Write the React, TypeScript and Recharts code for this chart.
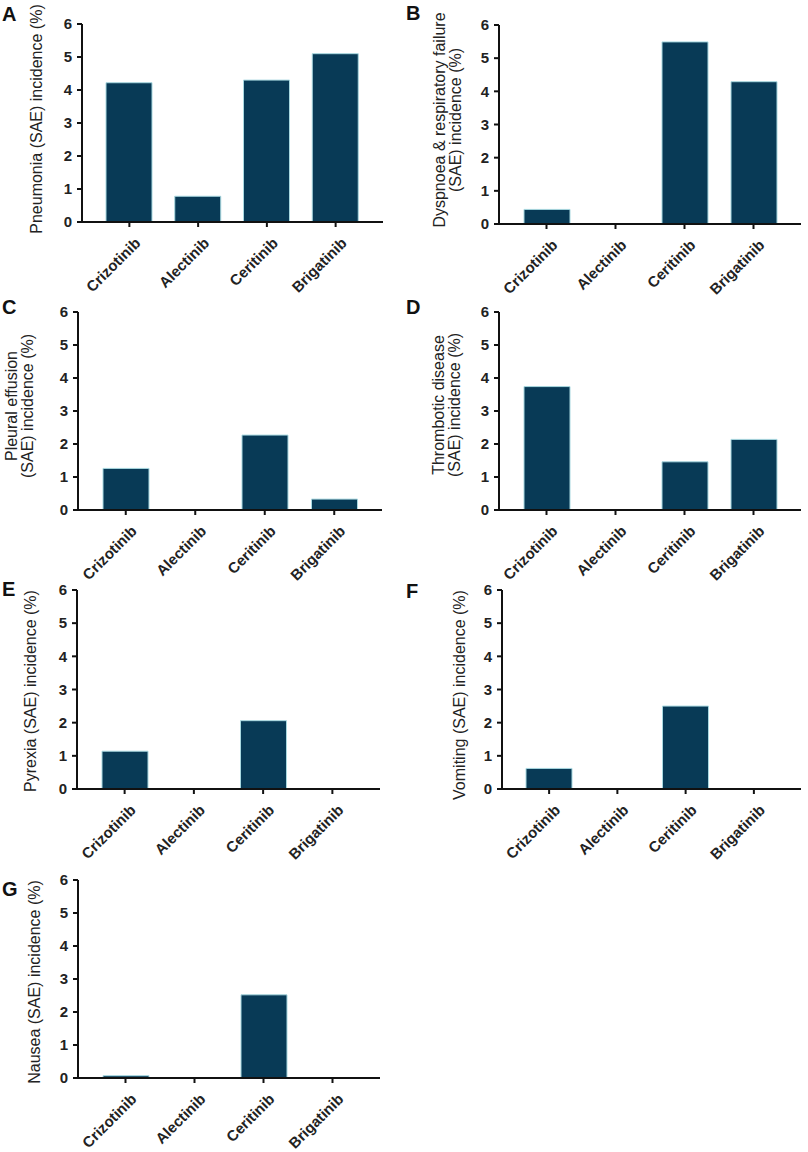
import React from 'react';
import { BarChart, Bar, XAxis, YAxis } from 'recharts';

const drugs = ['Crizotinib', 'Alectinib', 'Ceritinib', 'Brigatinib'];
const yTicks = [0, 1, 2, 3, 4, 5, 6];

const pneumonia = [4.22, 0.78, 4.3, 5.1];
const dyspnoea = [0.44, 0, 5.49, 4.29];
const pleuralEffusion = [1.26, 0, 2.27, 0.33];
const thrombotic = [3.74, 0, 1.46, 2.14];
const pyrexia = [1.14, 0, 2.06, 0];
const vomiting = [0.62, 0, 2.5, 0];
const nausea = [0.07, 0, 2.52, 0];

const BAR_FILL = '#083a56';
const BAR_EDGE = '#a8d8e0';
const AXIS = '#111';
const FONT = 'Liberation Sans, Arial, sans-serif';

type Panel = {
  letter: string;
  values: number[];
  title: string[];
  col: number;
  axisX: number;
  top: number;
  zero: number;
  right: number;
  titleX: number;
  titleY: number;
  letterY: number;
};

const panels: Panel[] = [
  { letter: 'A', values: pneumonia, title: ['Pneumonia (SAE) incidence (%)'], col: 0, axisX: 82, top: 24, zero: 222, right: 383, titleX: 37, titleY: 119, letterY: 20 },
  { letter: 'B', values: dyspnoea, title: ['Dyspnoea & respiratory failure', '(SAE) incidence (%)'], col: 404, axisX: 499, top: 25, zero: 224, right: 801, titleX: 448, titleY: 120, letterY: 19 },
  { letter: 'C', values: pleuralEffusion, title: ['Pleural effusion', '(SAE) incidence (%)'], col: 0, axisX: 78, top: 312, zero: 510, right: 382, titleX: 20, titleY: 406, letterY: 313 },
  { letter: 'D', values: thrombotic, title: ['Thrombotic disease', '(SAE) incidence (%)'], col: 404, axisX: 499, top: 312, zero: 510, right: 801, titleX: 447, titleY: 405, letterY: 313 },
  { letter: 'E', values: pyrexia, title: ['Pyrexia (SAE) incidence (%)'], col: 0, axisX: 77, top: 590, zero: 789, right: 380, titleX: 31, titleY: 691, letterY: 595 },
  { letter: 'F', values: vomiting, title: ['Vomiting (SAE) incidence (%)'], col: 404, axisX: 502, top: 590, zero: 789, right: 801, titleX: 460, titleY: 695, letterY: 597 },
  { letter: 'G', values: nausea, title: ['Nausea (SAE) incidence (%)'], col: 0, axisX: 78, top: 880, zero: 1078, right: 380, titleX: 35, titleY: 982, letterY: 895 },
];

// rotated category label, its right end sits just below-right of the tick
const XTick = (props: any) => {
  const { x, y, payload } = props;
  return (
    <g transform={`translate(${x + 12},${y + 17}) rotate(-45)`}>
      <text x={0} y={0} textAnchor="end" fill="#222" fontFamily={FONT} fontSize={15} fontWeight={700}>
        {payload.value}
      </text>
    </g>
  );
};

const PADTOP = 12;
const XAXIS_H = 90;
const YAXIS_W = 34;

const SmallChart = ({ p }: { p: Panel }) => {
  const data = drugs.map((d, i) => ({ drug: d, value: p.values[i] }));
  const height = p.zero - p.top + PADTOP + XAXIS_H;
  return (
    <div style={{ position: 'absolute', left: p.col, top: p.top - PADTOP }}>
      <BarChart
        width={404}
        height={height}
        data={data}
        margin={{ top: PADTOP, right: p.col + 404 - p.right, bottom: 0, left: p.axisX - p.col - YAXIS_W }}
      >
        <XAxis
          dataKey="drug"
          interval={0}
          height={XAXIS_H}
          padding={{ left: 13, right: 13 }}
          axisLine={{ stroke: AXIS, strokeWidth: 2 }}
          tickLine={{ stroke: AXIS, strokeWidth: 2 }}
          tickSize={5}
          tickMargin={0}
          tick={<XTick />}
        />
        <YAxis
          width={YAXIS_W}
          domain={[0, 6]}
          ticks={yTicks}
          interval={0}
          axisLine={{ stroke: AXIS, strokeWidth: 2 }}
          tickLine={{ stroke: AXIS, strokeWidth: 2 }}
          tickSize={5}
          tickMargin={5}
          tick={{ fill: '#222', fontFamily: FONT, fontSize: 15, fontWeight: 700 }}
        />
        <Bar dataKey="value" fill={BAR_FILL} stroke={BAR_EDGE} strokeWidth={1} barSize={46} isAnimationActive={false} />
      </BarChart>
    </div>
  );
};

export default function App() {
  return (
    <div style={{ position: 'absolute', left: 0, top: 0, width: 808, height: 1152, background: '#fff', fontFamily: FONT }}>
      {panels.map((p) => (
        <SmallChart key={p.letter} p={p} />
      ))}
      {panels.map((p) => (
        <div
          key={'t' + p.letter}
          style={{
            position: 'absolute',
            left: p.titleX,
            top: p.titleY,
            transform: 'translate(-50%, -50%) rotate(-90deg)',
            whiteSpace: 'nowrap',
            textAlign: 'center',
            fontSize: 16,
            lineHeight: '16px',
            color: '#222',
          }}
        >
          {p.title.map((t) => (
            <div key={t}>{t}</div>
          ))}
        </div>
      ))}
      {panels.map((p) => (
        <div
          key={'l' + p.letter}
          style={{
            position: 'absolute',
            left: p.col + 2,
            top: p.letterY - 16,
            fontSize: 20,
            fontWeight: 700,
            lineHeight: '20px',
            color: '#111',
          }}
        >
          {p.letter}
        </div>
      ))}
    </div>
  );
}
